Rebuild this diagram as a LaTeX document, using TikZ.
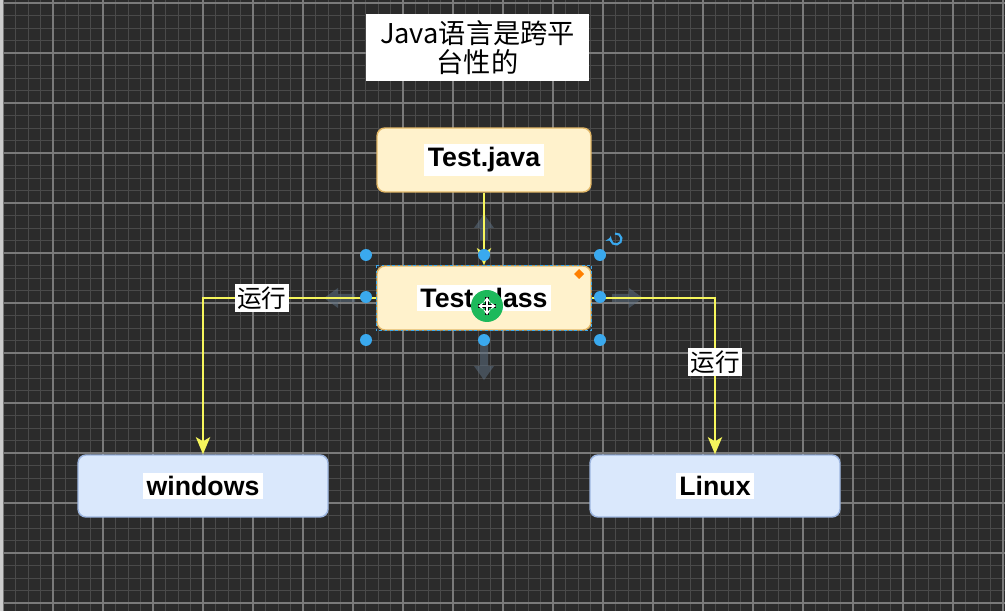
\documentclass[tikz,border=0pt]{standalone}
\usepackage{fontspec}
\setmainfont{Liberation Sans}
\newfontfamily\cjk{Noto Sans CJK SC}
\usepackage{xcolor}
\usetikzlibrary{arrows.meta, positioning}

\definecolor{bgdark}{HTML}{2B2B2B}
\definecolor{gridminor}{HTML}{4A4A4A}
\definecolor{gridmajor}{HTML}{7A7A7A}
\definecolor{javafill}{HTML}{FFF2CC}
\definecolor{javaline}{HTML}{E3B868}
\definecolor{osfill}{HTML}{DAE8FC}
\definecolor{osline}{HTML}{9DB6E0}
\definecolor{runline}{HTML}{F6F65C}
\definecolor{handleblue}{HTML}{3AA9EE}
\definecolor{movegreen}{HTML}{1DB95B}
\definecolor{hoverarrow}{HTML}{5C6E80}

\tikzset{
  srcbox/.style={draw=javaline, fill=javafill, line width=0.8pt, rounded corners=0.16cm,
    minimum width=4.28cm, minimum height=1.28cm, inner sep=0pt,
    font=\bfseries\fontsize{15.2}{17}\selectfont},
  osbox/.style={draw=osline, fill=osfill, line width=0.8pt, rounded corners=0.16cm,
    minimum width=5cm, minimum height=1.24cm, inner sep=0pt,
    font=\bfseries\fontsize{15.2}{17}\selectfont},
  runarrow/.style={draw=runline, line width=1.7pt, -{Stealth[length=0.34cm, width=0.28cm, inset=0.08cm, fill=runline]}},
  runlabel/.style={fill=white, inner sep=1.5pt, text=black, font=\cjk\fontsize{14}{15}\selectfont},
  handle/.style={fill=handleblue},
  hover/.style={fill=hoverarrow, opacity=0.55}
}
\newcommand{\hilite}[1]{{\setlength{\fboxsep}{2pt}\colorbox{white}{#1}}}

\begin{document}
\begin{tikzpicture}[x=0.02cm, y=-0.02cm]
  % background and grid
  \fill[bgdark] (0,0) rectangle (1005,611);
  \useasboundingbox (0,0) rectangle (1005,611);
  \foreach \i in {0,...,80}
    \draw[gridminor, line width=0.5pt] (3+12.5*\i,0) -- (3+12.5*\i,611);
  \foreach \i in {0,...,48}
    \draw[gridminor, line width=0.5pt] (0,3+12.5*\i) -- (1005,3+12.5*\i);
  \foreach \i in {0,...,20}
    \draw[gridmajor, line width=0.7pt] (3+50*\i,0) -- (3+50*\i,611);
  \foreach \i in {0,...,12}
    \draw[gridmajor, line width=0.7pt] (0,3+50*\i) -- (1005,3+50*\i);
  \fill[gray!40] (0,0) rectangle (3,611);

  % title
  \node[fill=white, minimum width=4.46cm, minimum height=1.34cm, align=center,
    font=\cjk\fontsize{15.5}{16.5}\selectfont] (title) at (477.5,47.5)
    {Java语言是跨平\\台性的};

  % boxes
  \node[srcbox] (java) at (484,160) {\hilite{Test.java}};
  \node[srcbox] (class) at (484,298) {\hilite{Test.class}};
  \node[osbox] (win) at (203,486) {\hilite{windows}};
  \node[osbox] (linux) at (715,486) {\hilite{Linux}};

  % hover arrows
  \fill[hover] (480,240) -- (480,228) -- (474,228) -- (484,214) -- (494,228) -- (488,228) -- (488,240) -- cycle;
  \fill[hover] (480,343) -- (480,366) -- (474,366) -- (484,380) -- (494,366) -- (488,366) -- (488,343) -- cycle;
  \fill[hover] (355,294) -- (338,294) -- (338,288) -- (324,298) -- (338,308) -- (338,302) -- (355,302) -- cycle;
  \fill[hover] (612,294) -- (629,294) -- (629,288) -- (643,298) -- (629,308) -- (629,302) -- (612,302) -- cycle;

  % connectors
  \draw[runarrow] (java) -- (class);
  \draw[runarrow] (class.west) -| (win.north)
    node[runlabel, pos=0.33] {运行};
  \draw[runarrow] (class.east) -| (linux.north)
    node[runlabel, pos=0.705] {运行};

  % selection of Test.class
  \draw[handleblue, line width=0.6pt, dash pattern=on 1.5pt off 1.5pt]
    (class.north west) rectangle (class.south east);
  \foreach \hx/\hy in {366/255, 484/255, 600/255, 366/297, 600/297, 366/340, 484/340, 600/340}
    \fill[handle] (\hx,\hy) circle (0.12cm);
  \fill[orange] (579,269) -- (584,274) -- (579,279) -- (574,274) -- cycle;
  \draw[handleblue, line width=1.2pt, -{Stealth[length=3pt, width=4pt]}]
    (616,239) ++(100:0.11cm) arc[start angle=100, end angle=-200, radius=0.11cm];

  % move cursor
  \fill[movegreen] (487,306) circle (0.32cm);
  \draw[black, line width=2.2pt] (478,306) -- (496,306) (487,297) -- (487,315);
  \draw[white, line width=0.9pt, {Stealth[length=3pt, width=4pt]}-{Stealth[length=3pt, width=4pt]}]
    (478,306) -- (496,306);
  \draw[white, line width=0.9pt, {Stealth[length=3pt, width=4pt]}-{Stealth[length=3pt, width=4pt]}]
    (487,297) -- (487,315);
\end{tikzpicture}
\end{document}
